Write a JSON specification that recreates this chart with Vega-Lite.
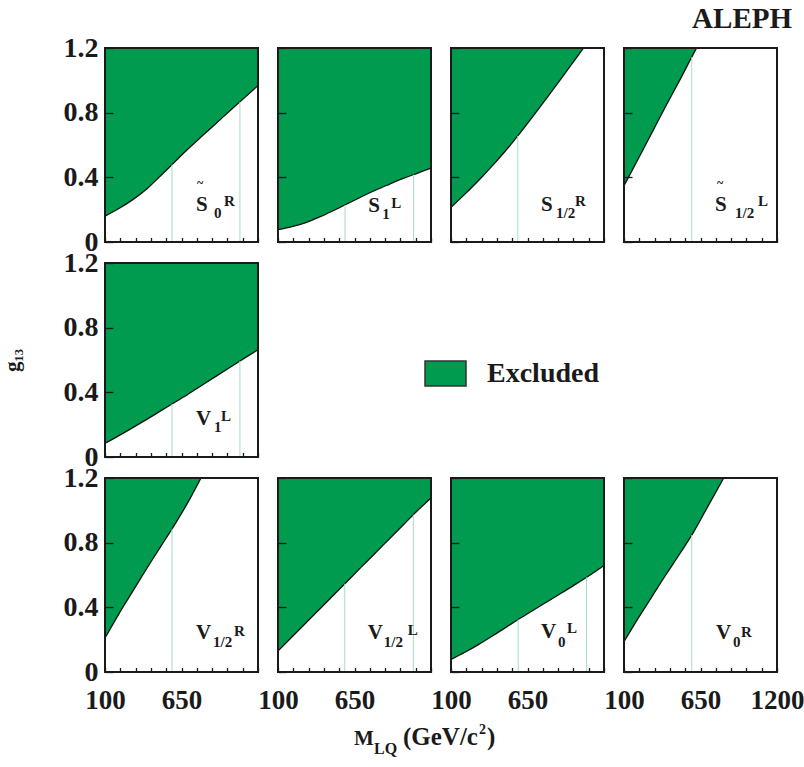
{
"$schema": "https://vega.github.io/schema/vega-lite/v6.json",
"background": "white",
"padding": {"left": 1, "top": 5, "right": 5, "bottom": 5},
"config": {
  "view": {"stroke": null},
  "text": {"font": "Liberation Serif", "fontWeight": "bold", "color": "#1a1a1a", "align": "left", "baseline": "alphabetic"},
  "area": {"interpolate": "monotone"},
  "line": {"interpolate": "monotone"},
  "axis": {"domain": false, "grid": false, "tickColor": "#1a1a1a", "tickWidth": 1.3, "labelFont": "Liberation Serif", "labelFontWeight": "bold", "labelColor": "#1a1a1a", "labelFlush": false, "labelOverlap": false, "labelBound": false, "titleFont": "Liberation Serif", "titleColor": "#1a1a1a"},
  "axisX": {"format": "d", "labelFontSize": 27, "labelPadding": 20, "tickSize": -4.5, "tickCount": 50},
  "axisY": {"format": "~g", "tickSize": -8, "labelFontSize": 28, "labelPadding": 15, "tickCount": 20}
},
"datasets": {
  "curves": [
    {"panel": "S0R", "m": 100, "g": 0.16}, {"panel": "S0R", "m": 200, "g": 0.207}, {"panel": "S0R", "m": 300, "g": 0.262}, {"panel": "S0R", "m": 400, "g": 0.328}, {"panel": "S0R", "m": 500, "g": 0.41}, {"panel": "S0R", "m": 600, "g": 0.494}, {"panel": "S0R", "m": 700, "g": 0.578}, {"panel": "S0R", "m": 800, "g": 0.657}, {"panel": "S0R", "m": 900, "g": 0.735}, {"panel": "S0R", "m": 1000, "g": 0.813}, {"panel": "S0R", "m": 1100, "g": 0.89}, {"panel": "S0R", "m": 1200, "g": 0.968},
    {"panel": "S1L", "m": 100, "g": 0.076}, {"panel": "S1L", "m": 200, "g": 0.095}, {"panel": "S1L", "m": 300, "g": 0.12}, {"panel": "S1L", "m": 400, "g": 0.155}, {"panel": "S1L", "m": 500, "g": 0.195}, {"panel": "S1L", "m": 600, "g": 0.237}, {"panel": "S1L", "m": 700, "g": 0.28}, {"panel": "S1L", "m": 800, "g": 0.32}, {"panel": "S1L", "m": 900, "g": 0.357}, {"panel": "S1L", "m": 1000, "g": 0.393}, {"panel": "S1L", "m": 1100, "g": 0.425}, {"panel": "S1L", "m": 1200, "g": 0.457},
    {"panel": "S12R", "m": 100, "g": 0.214}, {"panel": "S12R", "m": 200, "g": 0.296}, {"panel": "S12R", "m": 300, "g": 0.382}, {"panel": "S12R", "m": 400, "g": 0.474}, {"panel": "S12R", "m": 500, "g": 0.572}, {"panel": "S12R", "m": 600, "g": 0.678}, {"panel": "S12R", "m": 700, "g": 0.79}, {"panel": "S12R", "m": 800, "g": 0.904}, {"panel": "S12R", "m": 900, "g": 1.02}, {"panel": "S12R", "m": 1000, "g": 1.138}, {"panel": "S12R", "m": 1053, "g": 1.2},
    {"panel": "S12L", "m": 100, "g": 0.348}, {"panel": "S12L", "m": 200, "g": 0.51}, {"panel": "S12L", "m": 300, "g": 0.675}, {"panel": "S12L", "m": 400, "g": 0.84}, {"panel": "S12L", "m": 500, "g": 1.0}, {"panel": "S12L", "m": 600, "g": 1.165}, {"panel": "S12L", "m": 622, "g": 1.2},
    {"panel": "V1L", "m": 100, "g": 0.084}, {"panel": "V1L", "m": 200, "g": 0.132}, {"panel": "V1L", "m": 300, "g": 0.182}, {"panel": "V1L", "m": 400, "g": 0.233}, {"panel": "V1L", "m": 500, "g": 0.285}, {"panel": "V1L", "m": 600, "g": 0.337}, {"panel": "V1L", "m": 700, "g": 0.39}, {"panel": "V1L", "m": 800, "g": 0.445}, {"panel": "V1L", "m": 900, "g": 0.5}, {"panel": "V1L", "m": 1000, "g": 0.555}, {"panel": "V1L", "m": 1100, "g": 0.61}, {"panel": "V1L", "m": 1200, "g": 0.664},
    {"panel": "V12R", "m": 100, "g": 0.21}, {"panel": "V12R", "m": 200, "g": 0.36}, {"panel": "V12R", "m": 300, "g": 0.5}, {"panel": "V12R", "m": 400, "g": 0.64}, {"panel": "V12R", "m": 500, "g": 0.775}, {"panel": "V12R", "m": 600, "g": 0.91}, {"panel": "V12R", "m": 700, "g": 1.055}, {"panel": "V12R", "m": 790, "g": 1.2},
    {"panel": "V12L", "m": 100, "g": 0.13}, {"panel": "V12L", "m": 200, "g": 0.217}, {"panel": "V12L", "m": 300, "g": 0.303}, {"panel": "V12L", "m": 400, "g": 0.39}, {"panel": "V12L", "m": 500, "g": 0.476}, {"panel": "V12L", "m": 600, "g": 0.563}, {"panel": "V12L", "m": 700, "g": 0.65}, {"panel": "V12L", "m": 800, "g": 0.736}, {"panel": "V12L", "m": 900, "g": 0.823}, {"panel": "V12L", "m": 1000, "g": 0.909}, {"panel": "V12L", "m": 1100, "g": 0.996}, {"panel": "V12L", "m": 1200, "g": 1.077},
    {"panel": "V0L", "m": 100, "g": 0.078}, {"panel": "V0L", "m": 200, "g": 0.122}, {"panel": "V0L", "m": 300, "g": 0.171}, {"panel": "V0L", "m": 400, "g": 0.224}, {"panel": "V0L", "m": 500, "g": 0.279}, {"panel": "V0L", "m": 600, "g": 0.334}, {"panel": "V0L", "m": 700, "g": 0.387}, {"panel": "V0L", "m": 800, "g": 0.439}, {"panel": "V0L", "m": 900, "g": 0.492}, {"panel": "V0L", "m": 1000, "g": 0.545}, {"panel": "V0L", "m": 1100, "g": 0.6}, {"panel": "V0L", "m": 1200, "g": 0.659},
    {"panel": "V0R", "m": 100, "g": 0.187}, {"panel": "V0R", "m": 200, "g": 0.33}, {"panel": "V0R", "m": 300, "g": 0.465}, {"panel": "V0R", "m": 400, "g": 0.6}, {"panel": "V0R", "m": 500, "g": 0.73}, {"panel": "V0R", "m": 600, "g": 0.865}, {"panel": "V0R", "m": 700, "g": 1.02}, {"panel": "V0R", "m": 817, "g": 1.2}
  ],
  "limits": [
    {"panel": "S0R", "m": 582, "g": 0.479}, {"panel": "S0R", "m": 1070, "g": 0.867},
    {"panel": "S1L", "m": 582, "g": 0.229}, {"panel": "S1L", "m": 1075, "g": 0.417},
    {"panel": "S12R", "m": 580, "g": 0.657},
    {"panel": "S12L", "m": 587, "g": 1.144},
    {"panel": "V1L", "m": 582, "g": 0.328}, {"panel": "V1L", "m": 1070, "g": 0.594},
    {"panel": "V12R", "m": 582, "g": 0.886},
    {"panel": "V12L", "m": 580, "g": 0.546}, {"panel": "V12L", "m": 1073, "g": 0.973},
    {"panel": "V0L", "m": 583, "g": 0.325}, {"panel": "V0L", "m": 1075, "g": 0.586},
    {"panel": "V0R", "m": 587, "g": 0.847}
  ]
},
"title": {"text": "ALEPH", "anchor": "end", "font": "Liberation Serif", "fontSize": 29, "fontWeight": "bold", "color": "#1a1a1a", "offset": 0, "dx": -12},
"spacing": 9,
"vconcat": [
 {
  "columns": 4,
  "spacing": {"row": 21, "column": 20},
  "bounds": "flush",
  "resolve": {"scale": {"color": "independent"}, "legend": {"color": "independent"}},
  "concat": [
   {"width": 153, "height": 194, "layer": [
     {"data": {"name": "curves"}, "transform": [{"filter": "datum.panel === 'S0R'"}], "mark": {"type": "area", "color": "#009b4e"},
      "encoding": {"x": {"field": "m", "type": "quantitative", "scale": {"domain": [100, 1200], "nice": false, "zero": false}, "axis": {"title": null, "labels": false, "zindex": 1, "tickCount": 50, "values": [100, 210, 320, 430, 540, 650, 760, 870, 980, 1090, 1200], "encoding": {"ticks": {"update": {"y2": {"signal": "datum.value === 650 ? -8 : -4.5"}}}}}},
                   "y": {"field": "g", "type": "quantitative", "scale": {"domain": [0, 1.2], "nice": false, "zero": false}, "axis": {"title": null, "zindex": 1, "labelOverlap": false, "values": [0, 0.4, 0.8, 1.2]}},
                   "y2": {"datum": 1.2}}},
     {"data": {"name": "curves"}, "transform": [{"filter": "datum.panel === 'S0R'"}], "mark": {"type": "line", "color": "#111111", "strokeWidth": 1.3}, "encoding": {"x": {"field": "m", "type": "quantitative"}, "y": {"field": "g", "type": "quantitative"}}},
     {"data": {"name": "limits"}, "transform": [{"filter": "datum.panel === 'S0R'"}], "mark": {"type": "rule", "color": "#a6dcc6", "strokeWidth": 1}, "encoding": {"x": {"field": "m", "type": "quantitative"}, "y": {"field": "g", "type": "quantitative"}, "y2": {"datum": 0}}},
     {"data": {"values": [{}]}, "mark": {"type": "rect", "filled": false, "stroke": "#1a1a1a", "strokeWidth": 2}, "encoding": {"x": {"datum": 100}, "x2": {"datum": 1200}, "y": {"datum": 0}, "y2": {"datum": 1.2}}},
     {"data": {"values": [{}]}, "encoding": {"x": {"datum": 754}, "y": {"datum": 0.192}}, "layer": [
       {"mark": {"type": "text", "text": "S", "fontSize": 21}},
       {"mark": {"type": "text", "text": "~", "fontSize": 12, "dx": 1, "dy": -24}},
       {"mark": {"type": "text", "text": "0", "fontSize": 15, "dx": 18, "dy": 7}},
       {"mark": {"type": "text", "text": "R", "fontSize": 15, "dx": 28, "dy": -5}}]}
   ]},
   {"width": 153, "height": 194, "layer": [
     {"data": {"name": "curves"}, "transform": [{"filter": "datum.panel === 'S1L'"}], "mark": {"type": "area", "color": "#009b4e"},
      "encoding": {"x": {"field": "m", "type": "quantitative", "scale": {"domain": [100, 1200], "nice": false, "zero": false}, "axis": {"title": null, "labels": false, "zindex": 1, "tickCount": 50, "values": [100, 210, 320, 430, 540, 650, 760, 870, 980, 1090, 1200], "encoding": {"ticks": {"update": {"y2": {"signal": "datum.value === 650 ? -8 : -4.5"}}}}}},
                   "y": {"field": "g", "type": "quantitative", "scale": {"domain": [0, 1.2], "nice": false, "zero": false}, "axis": {"title": null, "labels": false, "zindex": 1, "values": [0, 0.4, 0.8, 1.2]}},
                   "y2": {"datum": 1.2}}},
     {"data": {"name": "curves"}, "transform": [{"filter": "datum.panel === 'S1L'"}], "mark": {"type": "line", "color": "#111111", "strokeWidth": 1.3}, "encoding": {"x": {"field": "m", "type": "quantitative"}, "y": {"field": "g", "type": "quantitative"}}},
     {"data": {"name": "limits"}, "transform": [{"filter": "datum.panel === 'S1L'"}], "mark": {"type": "rule", "color": "#a6dcc6", "strokeWidth": 1}, "encoding": {"x": {"field": "m", "type": "quantitative"}, "y": {"field": "g", "type": "quantitative"}, "y2": {"datum": 0}}},
     {"data": {"values": [{}]}, "mark": {"type": "rect", "filled": false, "stroke": "#1a1a1a", "strokeWidth": 2}, "encoding": {"x": {"datum": 100}, "x2": {"datum": 1200}, "y": {"datum": 0}, "y2": {"datum": 1.2}}},
     {"data": {"values": [{}]}, "encoding": {"x": {"datum": 749}, "y": {"datum": 0.188}}, "layer": [
       {"mark": {"type": "text", "text": "S", "fontSize": 21}},
       {"mark": {"type": "text", "text": "1", "fontSize": 15, "dx": 14, "dy": 7}},
       {"mark": {"type": "text", "text": "L", "fontSize": 15, "dx": 23, "dy": -4}}]}
   ]},
   {"width": 153, "height": 194, "layer": [
     {"data": {"name": "curves"}, "transform": [{"filter": "datum.panel === 'S12R'"}], "mark": {"type": "area", "color": "#009b4e"},
      "encoding": {"x": {"field": "m", "type": "quantitative", "scale": {"domain": [100, 1200], "nice": false, "zero": false}, "axis": {"title": null, "labels": false, "zindex": 1, "tickCount": 50, "values": [100, 210, 320, 430, 540, 650, 760, 870, 980, 1090, 1200], "encoding": {"ticks": {"update": {"y2": {"signal": "datum.value === 650 ? -8 : -4.5"}}}}}},
                   "y": {"field": "g", "type": "quantitative", "scale": {"domain": [0, 1.2], "nice": false, "zero": false}, "axis": {"title": null, "labels": false, "zindex": 1, "values": [0, 0.4, 0.8, 1.2]}},
                   "y2": {"datum": 1.2}}},
     {"data": {"name": "curves"}, "transform": [{"filter": "datum.panel === 'S12R'"}], "mark": {"type": "line", "color": "#111111", "strokeWidth": 1.3}, "encoding": {"x": {"field": "m", "type": "quantitative"}, "y": {"field": "g", "type": "quantitative"}}},
     {"data": {"name": "limits"}, "transform": [{"filter": "datum.panel === 'S12R'"}], "mark": {"type": "rule", "color": "#a6dcc6", "strokeWidth": 1}, "encoding": {"x": {"field": "m", "type": "quantitative"}, "y": {"field": "g", "type": "quantitative"}, "y2": {"datum": 0}}},
     {"data": {"values": [{}]}, "mark": {"type": "rect", "filled": false, "stroke": "#1a1a1a", "strokeWidth": 2}, "encoding": {"x": {"datum": 100}, "x2": {"datum": 1200}, "y": {"datum": 0}, "y2": {"datum": 1.2}}},
     {"data": {"values": [{}]}, "encoding": {"x": {"datum": 747}, "y": {"datum": 0.192}}, "layer": [
       {"mark": {"type": "text", "text": "S", "fontSize": 21}},
       {"mark": {"type": "text", "text": "1/2", "fontSize": 15, "dx": 15, "dy": 7}},
       {"mark": {"type": "text", "text": "R", "fontSize": 15, "dx": 34, "dy": -5}}]}
   ]},
   {"width": 153, "height": 194, "layer": [
     {"data": {"name": "curves"}, "transform": [{"filter": "datum.panel === 'S12L'"}], "mark": {"type": "area", "color": "#009b4e"},
      "encoding": {"x": {"field": "m", "type": "quantitative", "scale": {"domain": [100, 1200], "nice": false, "zero": false}, "axis": {"title": null, "labels": false, "zindex": 1, "tickCount": 50, "values": [100, 210, 320, 430, 540, 650, 760, 870, 980, 1090, 1200], "encoding": {"ticks": {"update": {"y2": {"signal": "datum.value === 650 ? -8 : -4.5"}}}}}},
                   "y": {"field": "g", "type": "quantitative", "scale": {"domain": [0, 1.2], "nice": false, "zero": false}, "axis": {"title": null, "labels": false, "zindex": 1, "values": [0, 0.4, 0.8, 1.2]}},
                   "y2": {"datum": 1.2}}},
     {"data": {"name": "curves"}, "transform": [{"filter": "datum.panel === 'S12L'"}], "mark": {"type": "line", "color": "#111111", "strokeWidth": 1.3}, "encoding": {"x": {"field": "m", "type": "quantitative"}, "y": {"field": "g", "type": "quantitative"}}},
     {"data": {"name": "limits"}, "transform": [{"filter": "datum.panel === 'S12L'"}], "mark": {"type": "rule", "color": "#a6dcc6", "strokeWidth": 1}, "encoding": {"x": {"field": "m", "type": "quantitative"}, "y": {"field": "g", "type": "quantitative"}, "y2": {"datum": 0}}},
     {"data": {"values": [{}]}, "mark": {"type": "rect", "filled": false, "stroke": "#1a1a1a", "strokeWidth": 2}, "encoding": {"x": {"datum": 100}, "x2": {"datum": 1200}, "y": {"datum": 0}, "y2": {"datum": 1.2}}},
     {"data": {"values": [{}]}, "encoding": {"x": {"datum": 754}, "y": {"datum": 0.192}}, "layer": [
       {"mark": {"type": "text", "text": "S", "fontSize": 21}},
       {"mark": {"type": "text", "text": "~", "fontSize": 12, "dx": 2, "dy": -24}},
       {"mark": {"type": "text", "text": "1/2", "fontSize": 15, "dx": 20, "dy": 7}},
       {"mark": {"type": "text", "text": "L", "fontSize": 15, "dx": 43, "dy": -5}}]}
   ]},
   {"width": 153, "height": 194, "layer": [
     {"data": {"name": "curves"}, "transform": [{"filter": "datum.panel === 'V1L'"}], "mark": {"type": "area", "color": "#009b4e"},
      "encoding": {"x": {"field": "m", "type": "quantitative", "scale": {"domain": [100, 1200], "nice": false, "zero": false}, "axis": {"title": null, "labels": false, "zindex": 1, "tickCount": 50, "values": [100, 210, 320, 430, 540, 650, 760, 870, 980, 1090, 1200], "encoding": {"ticks": {"update": {"y2": {"signal": "datum.value === 650 ? -8 : -4.5"}}}}}},
                   "y": {"field": "g", "type": "quantitative", "scale": {"domain": [0, 1.2], "nice": false, "zero": false}, "axis": {"title": "g₁₃", "zindex": 1, "labelOverlap": false, "values": [0, 0.4, 0.8, 1.2], "titleFontSize": 21, "titleFontWeight": "bold", "titlePadding": 41}},
                   "y2": {"datum": 1.2},
                   "color": {"datum": "Excluded", "type": "nominal", "scale": {"range": ["#009b4e"]},
                             "legend": {"title": null, "orient": "none", "legendX": 319, "legendY": 89, "padding": 0, "symbolType": "M-1,-0.61L1,-0.61L1,0.61L-1,0.61Z", "symbolSize": 1681, "symbolStrokeColor": "#333333", "symbolStrokeWidth": 1.5, "symbolOpacity": 1, "labelFont": "Liberation Serif", "labelFontSize": 28, "labelFontWeight": "bold", "labelColor": "#1a1a1a", "labelOffset": 20}}}},
     {"data": {"name": "curves"}, "transform": [{"filter": "datum.panel === 'V1L'"}], "mark": {"type": "line", "color": "#111111", "strokeWidth": 1.3}, "encoding": {"x": {"field": "m", "type": "quantitative"}, "y": {"field": "g", "type": "quantitative"}}},
     {"data": {"name": "limits"}, "transform": [{"filter": "datum.panel === 'V1L'"}], "mark": {"type": "rule", "color": "#a6dcc6", "strokeWidth": 1}, "encoding": {"x": {"field": "m", "type": "quantitative"}, "y": {"field": "g", "type": "quantitative"}, "y2": {"datum": 0}}},
     {"data": {"values": [{}]}, "mark": {"type": "rect", "filled": false, "stroke": "#1a1a1a", "strokeWidth": 2}, "encoding": {"x": {"datum": 100}, "x2": {"datum": 1200}, "y": {"datum": 0}, "y2": {"datum": 1.2}}},
     {"data": {"values": [{}]}, "encoding": {"x": {"datum": 754}, "y": {"datum": 0.197}}, "layer": [
       {"mark": {"type": "text", "text": "V", "fontSize": 21}},
       {"mark": {"type": "text", "text": "1", "fontSize": 15, "dx": 18, "dy": 7}},
       {"mark": {"type": "text", "text": "L", "fontSize": 15, "dx": 25, "dy": -4}}]}
   ]},
   {"width": 153, "height": 194, "data": {"values": []}, "mark": "point", "encoding": {}},
   {"width": 153, "height": 194, "data": {"values": []}, "mark": "point", "encoding": {}},
   {"width": 153, "height": 194, "data": {"values": []}, "mark": "point", "encoding": {}},
   {"width": 153, "height": 194, "layer": [
     {"data": {"name": "curves"}, "transform": [{"filter": "datum.panel === 'V12R'"}], "mark": {"type": "area", "color": "#009b4e"},
      "encoding": {"x": {"field": "m", "type": "quantitative", "scale": {"domain": [100, 1200], "nice": false, "zero": false}, "axis": {"title": null, "zindex": 1, "tickCount": 50, "labelOverlap": false, "labelFlush": false, "values": [100, 210, 320, 430, 540, 650, 760, 870, 980, 1090, 1200], "encoding": {"ticks": {"update": {"y2": {"signal": "datum.value === 650 ? -8 : -4.5"}}}}, "labelExpr": "datum.value === 100 || datum.value === 650 ? datum.label : ''"}},
                   "y": {"field": "g", "type": "quantitative", "scale": {"domain": [0, 1.2], "nice": false, "zero": false}, "axis": {"title": null, "zindex": 1, "labelOverlap": false, "values": [0, 0.4, 0.8, 1.2]}},
                   "y2": {"datum": 1.2}}},
     {"data": {"name": "curves"}, "transform": [{"filter": "datum.panel === 'V12R'"}], "mark": {"type": "line", "color": "#111111", "strokeWidth": 1.3}, "encoding": {"x": {"field": "m", "type": "quantitative"}, "y": {"field": "g", "type": "quantitative"}}},
     {"data": {"name": "limits"}, "transform": [{"filter": "datum.panel === 'V12R'"}], "mark": {"type": "rule", "color": "#a6dcc6", "strokeWidth": 1}, "encoding": {"x": {"field": "m", "type": "quantitative"}, "y": {"field": "g", "type": "quantitative"}, "y2": {"datum": 0}}},
     {"data": {"values": [{}]}, "mark": {"type": "rect", "filled": false, "stroke": "#1a1a1a", "strokeWidth": 2}, "encoding": {"x": {"datum": 100}, "x2": {"datum": 1200}, "y": {"datum": 0}, "y2": {"datum": 1.2}}},
     {"data": {"values": [{}]}, "encoding": {"x": {"datum": 754}, "y": {"datum": 0.202}}, "layer": [
       {"mark": {"type": "text", "text": "V", "fontSize": 21}},
       {"mark": {"type": "text", "text": "1/2", "fontSize": 15, "dx": 17, "dy": 8}},
       {"mark": {"type": "text", "text": "R", "fontSize": 15, "dx": 38, "dy": -3}}]}
   ]},
   {"width": 153, "height": 194, "layer": [
     {"data": {"name": "curves"}, "transform": [{"filter": "datum.panel === 'V12L'"}], "mark": {"type": "area", "color": "#009b4e"},
      "encoding": {"x": {"field": "m", "type": "quantitative", "scale": {"domain": [100, 1200], "nice": false, "zero": false}, "axis": {"title": null, "zindex": 1, "tickCount": 50, "labelOverlap": false, "labelFlush": false, "values": [100, 210, 320, 430, 540, 650, 760, 870, 980, 1090, 1200], "encoding": {"ticks": {"update": {"y2": {"signal": "datum.value === 650 ? -8 : -4.5"}}}}, "labelExpr": "datum.value === 100 || datum.value === 650 ? datum.label : ''"}},
                   "y": {"field": "g", "type": "quantitative", "scale": {"domain": [0, 1.2], "nice": false, "zero": false}, "axis": {"title": null, "labels": false, "zindex": 1, "values": [0, 0.4, 0.8, 1.2]}},
                   "y2": {"datum": 1.2}}},
     {"data": {"name": "curves"}, "transform": [{"filter": "datum.panel === 'V12L'"}], "mark": {"type": "line", "color": "#111111", "strokeWidth": 1.3}, "encoding": {"x": {"field": "m", "type": "quantitative"}, "y": {"field": "g", "type": "quantitative"}}},
     {"data": {"name": "limits"}, "transform": [{"filter": "datum.panel === 'V12L'"}], "mark": {"type": "rule", "color": "#a6dcc6", "strokeWidth": 1}, "encoding": {"x": {"field": "m", "type": "quantitative"}, "y": {"field": "g", "type": "quantitative"}, "y2": {"datum": 0}}},
     {"data": {"values": [{}]}, "mark": {"type": "rect", "filled": false, "stroke": "#1a1a1a", "strokeWidth": 2}, "encoding": {"x": {"datum": 100}, "x2": {"datum": 1200}, "y": {"datum": 0}, "y2": {"datum": 1.2}}},
     {"data": {"values": [{}]}, "encoding": {"x": {"datum": 745}, "y": {"datum": 0.202}}, "layer": [
       {"mark": {"type": "text", "text": "V", "fontSize": 21}},
       {"mark": {"type": "text", "text": "1/2", "fontSize": 15, "dx": 16, "dy": 8}},
       {"mark": {"type": "text", "text": "L", "fontSize": 15, "dx": 40, "dy": -4}}]}
   ]},
   {"width": 153, "height": 194, "layer": [
     {"data": {"name": "curves"}, "transform": [{"filter": "datum.panel === 'V0L'"}], "mark": {"type": "area", "color": "#009b4e"},
      "encoding": {"x": {"field": "m", "type": "quantitative", "scale": {"domain": [100, 1200], "nice": false, "zero": false}, "axis": {"title": null, "zindex": 1, "tickCount": 50, "labelOverlap": false, "labelFlush": false, "values": [100, 210, 320, 430, 540, 650, 760, 870, 980, 1090, 1200], "encoding": {"ticks": {"update": {"y2": {"signal": "datum.value === 650 ? -8 : -4.5"}}}}, "labelExpr": "datum.value === 100 || datum.value === 650 ? datum.label : ''"}},
                   "y": {"field": "g", "type": "quantitative", "scale": {"domain": [0, 1.2], "nice": false, "zero": false}, "axis": {"title": null, "labels": false, "zindex": 1, "values": [0, 0.4, 0.8, 1.2]}},
                   "y2": {"datum": 1.2}}},
     {"data": {"name": "curves"}, "transform": [{"filter": "datum.panel === 'V0L'"}], "mark": {"type": "line", "color": "#111111", "strokeWidth": 1.3}, "encoding": {"x": {"field": "m", "type": "quantitative"}, "y": {"field": "g", "type": "quantitative"}}},
     {"data": {"name": "limits"}, "transform": [{"filter": "datum.panel === 'V0L'"}], "mark": {"type": "rule", "color": "#a6dcc6", "strokeWidth": 1}, "encoding": {"x": {"field": "m", "type": "quantitative"}, "y": {"field": "g", "type": "quantitative"}, "y2": {"datum": 0}}},
     {"data": {"values": [{}]}, "mark": {"type": "rect", "filled": false, "stroke": "#1a1a1a", "strokeWidth": 2}, "encoding": {"x": {"datum": 100}, "x2": {"datum": 1200}, "y": {"datum": 0}, "y2": {"datum": 1.2}}},
     {"data": {"values": [{}]}, "encoding": {"x": {"datum": 747}, "y": {"datum": 0.212}}, "layer": [
       {"mark": {"type": "text", "text": "V", "fontSize": 21}},
       {"mark": {"type": "text", "text": "0", "fontSize": 15, "dx": 17, "dy": 9}},
       {"mark": {"type": "text", "text": "L", "fontSize": 15, "dx": 26, "dy": -5}}]}
   ]},
   {"width": 153, "height": 194, "layer": [
     {"data": {"name": "curves"}, "transform": [{"filter": "datum.panel === 'V0R'"}], "mark": {"type": "area", "color": "#009b4e"},
      "encoding": {"x": {"field": "m", "type": "quantitative", "scale": {"domain": [100, 1200], "nice": false, "zero": false}, "axis": {"title": null, "zindex": 1, "tickCount": 50, "labelOverlap": false, "labelFlush": false, "values": [100, 210, 320, 430, 540, 650, 760, 870, 980, 1090, 1200], "encoding": {"ticks": {"update": {"y2": {"signal": "datum.value === 650 ? -8 : -4.5"}}}}, "labelExpr": "datum.value === 100 || datum.value === 650 || datum.value === 1200 ? datum.label : ''"}},
                   "y": {"field": "g", "type": "quantitative", "scale": {"domain": [0, 1.2], "nice": false, "zero": false}, "axis": {"title": null, "labels": false, "zindex": 1, "values": [0, 0.4, 0.8, 1.2]}},
                   "y2": {"datum": 1.2}}},
     {"data": {"name": "curves"}, "transform": [{"filter": "datum.panel === 'V0R'"}], "mark": {"type": "line", "color": "#111111", "strokeWidth": 1.3}, "encoding": {"x": {"field": "m", "type": "quantitative"}, "y": {"field": "g", "type": "quantitative"}}},
     {"data": {"name": "limits"}, "transform": [{"filter": "datum.panel === 'V0R'"}], "mark": {"type": "rule", "color": "#a6dcc6", "strokeWidth": 1}, "encoding": {"x": {"field": "m", "type": "quantitative"}, "y": {"field": "g", "type": "quantitative"}, "y2": {"datum": 0}}},
     {"data": {"values": [{}]}, "mark": {"type": "rect", "filled": false, "stroke": "#1a1a1a", "strokeWidth": 2}, "encoding": {"x": {"datum": 100}, "x2": {"datum": 1200}, "y": {"datum": 0}, "y2": {"datum": 1.2}}},
     {"data": {"values": [{}]}, "encoding": {"x": {"datum": 761}, "y": {"datum": 0.202}}, "layer": [
       {"mark": {"type": "text", "text": "V", "fontSize": 21}},
       {"mark": {"type": "text", "text": "0", "fontSize": 15, "dx": 17, "dy": 8}},
       {"mark": {"type": "text", "text": "R", "fontSize": 15, "dx": 25, "dy": -2}}]}
   ]}
  ]
 },
 {"width": 672, "height": 20, "data": {"values": [{}]}, "encoding": {}, "layer": [
   {"mark": {"type": "text", "text": "M", "fontSize": 21, "dx": -87}, "encoding": {}},
   {"mark": {"type": "text", "text": "LQ", "fontSize": 16, "dx": -67, "dy": 9}, "encoding": {}},
   {"mark": {"type": "text", "text": "(GeV/c", "fontSize": 25, "dx": -38}, "encoding": {}},
   {"mark": {"type": "text", "text": "2", "fontSize": 14, "dx": 38, "dy": -11}, "encoding": {}},
   {"mark": {"type": "text", "text": ")", "fontSize": 25, "dx": 46}, "encoding": {}}
 ]}
]
}
